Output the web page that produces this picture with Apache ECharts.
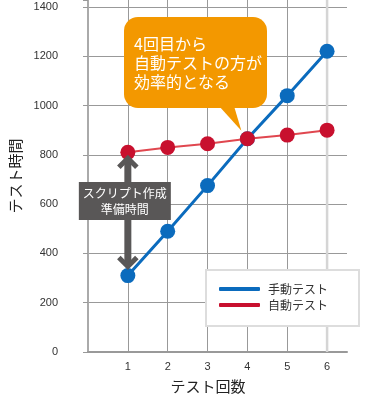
<!DOCTYPE html>
<html><head><meta charset="utf-8">
<script src="https://cdn.jsdelivr.net/npm/echarts@6/dist/echarts.min.js"></script>
<style>html,body{margin:0;padding:0;background:#fff}#c{width:365px;height:400px}</style>
</head><body><div id="c"></div>
<script>
const categories = [1, 2, 3, 4, 5, 6];
const manualTest = [310, 490, 675, 865, 1040, 1220];
const autoTest = [810, 830, 845, 865, 880, 900];
const seriesNames = ['手動テスト', '自動テスト'];
const yTicks = [0, 200, 400, 600, 800, 1000, 1200, 1400];
const calloutLines = ['4回目から', '自動テストの方が', '効率的となる'];
const arrowLabelLines = ['スクリプト作成', '準備時間'];
const xName = 'テスト回数';
const yName = 'テスト時間';

const JP = '"Noto Sans CJK JP", "Noto Sans", sans-serif';
const LAT = '"Liberation Sans", Arial, sans-serif';

const chart = echarts.init(document.getElementById('c'), null, {renderer: 'canvas'});
chart.setOption({
  animation: false,
  backgroundColor: '#fff',
  grid: {left: 88, right: 18, top: 0, bottom: 48, containLabel: false, outerBoundsMode: 'none'},
  xAxis: {
    type: 'value', min: 0, max: 6.5, interval: 1,
    name: xName, nameLocation: 'middle', nameGap: 27,
    nameTextStyle: {fontFamily: JP, fontSize: 15, color: '#222', padding: [0, 19, 0, 0]},
    axisLine: {show: true, lineStyle: {color: '#999', width: 2}},
    axisTick: {show: false},
    axisLabel: {margin: 9, fontFamily: LAT, fontSize: 11, color: '#333',
      formatter: v => (categories.indexOf(v) >= 0 ? String(v) : '')},
    splitLine: {show: true, lineStyle: {color: ['#aaa', '#999', '#999', '#999', '#999', '#999', '#d5d5d5', 'rgba(0,0,0,0)'], width: 1}}
  },
  yAxis: {
    type: 'value', min: 0, max: 1428, interval: 200,
    name: yName, nameLocation: 'middle', nameGap: 63,
    nameTextStyle: {fontFamily: JP, fontSize: 15, color: '#222'},
    axisLine: {show: true, lineStyle: {color: '#aaa', width: 2}},
    axisTick: {show: true, length: 5, lineStyle: {color: '#999'}},
    axisLabel: {margin: 30, fontFamily: LAT, fontSize: 11, color: '#333',
      formatter: v => (yTicks.indexOf(v) >= 0 ? String(v) : '')},
    splitLine: {show: true, lineStyle: {color: ['#999', '#999', '#999', '#999', '#999', '#999', '#999', '#999', 'rgba(0,0,0,0)'], width: 1}}
  },
  legend: {
    orient: 'vertical', left: 206, top: 270,
    backgroundColor: '#fff', borderColor: '#ddd', borderWidth: 2,
    padding: [12, 31, 14, 13],
    itemWidth: 41, itemHeight: 4, itemGap: 2, icon: 'roundRect',
    textStyle: {fontFamily: JP, fontSize: 12, color: '#333', lineHeight: 14, padding: [0, 0, 0, 3]},
    data: seriesNames
  },
  series: [
    {
      name: seriesNames[0], type: 'line', z: 2,
      data: categories.map((c, i) => [c, manualTest[i]]),
      symbol: 'circle', symbolSize: 15,
      itemStyle: {color: '#0b6bbd'},
      lineStyle: {color: '#0b6bbd', width: 3}
    },
    {
      name: seriesNames[1], type: 'line', z: 3,
      data: categories.map((c, i) => [c, autoTest[i]]),
      symbol: 'circle', symbolSize: 15,
      itemStyle: {color: '#c8102e'},
      lineStyle: {color: '#e0474f', width: 2}
    }
  ]
});

// annotations positioned from data
const px = (x, y) => chart.convertToPixel({gridIndex: 0}, [x, y]);
const red1 = px(categories[0], autoTest[0]);
const blue1 = px(categories[0], manualTest[0]);
const cross = px(categories[3], autoTest[3]);
const sixTop = px(categories[5], 1428);
const sixBot = px(categories[5], 0);

const ax = red1[0];
const topTip = red1[1] + 6;
const botTip = blue1[1] - 9;
const gray = '#595757';
const orange = '#f39800';

chart.setOption({
  graphic: [
    {type: 'line', z: 1, silent: true,
      shape: {x1: sixTop[0], y1: sixTop[1], x2: sixBot[0], y2: sixBot[1]},
      style: {stroke: '#d5d5d5', lineWidth: 2.5}},
    // double arrow
    {type: 'rect', z: 10, shape: {x: ax - 3.5, y: topTip + 2, width: 7, height: botTip - topTip - 4},
      style: {fill: gray}},
    {type: 'polyline', z: 10, shape: {points: [[ax - 9, topTip + 9], [ax, topTip], [ax + 9, topTip + 9]]},
      style: {stroke: gray, lineWidth: 5, fill: null, lineJoin: 'miter'}},
    {type: 'polyline', z: 10, shape: {points: [[ax - 9, botTip - 9], [ax, botTip], [ax + 9, botTip - 9]]},
      style: {stroke: gray, lineWidth: 5, fill: null, lineJoin: 'miter'}},
    {type: 'rect', z: 11, shape: {x: ax - 49, y: 182, width: 92, height: 38},
      style: {fill: gray}},
    {type: 'text', z: 12, x: ax - 3, y: 201,
      style: {text: arrowLabelLines.join('\n'), fill: '#fff', font: '12px ' + JP,
        align: 'center', verticalAlign: 'middle', lineHeight: 16}},
    // callout
    {type: 'polygon', z: 20, shape: {points: [[219, 106], [234, 106], [cross[0] - 6, cross[1] - 8]]},
      style: {fill: orange}},
    {type: 'rect', z: 20, shape: {x: 124, y: 17, width: 143, height: 91, r: 14},
      style: {fill: orange}},
    {type: 'text', z: 21, x: 134, y: 34,
      style: {text: calloutLines.join('\n'), fill: '#fff', font: '16px ' + JP,
        align: 'left', verticalAlign: 'top', lineHeight: 19}}
  ]
});
</script>
</body></html>
